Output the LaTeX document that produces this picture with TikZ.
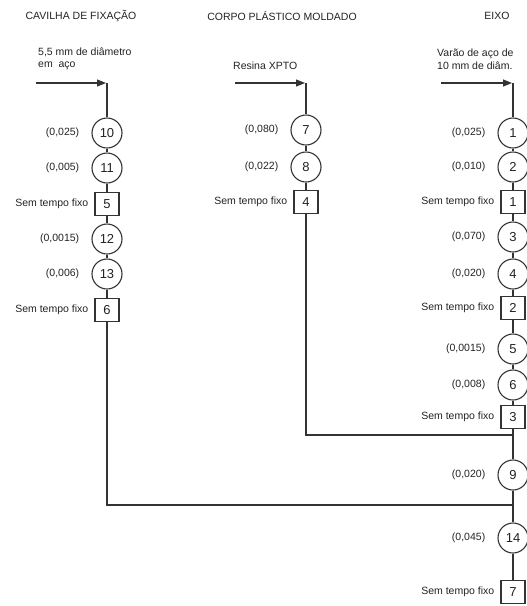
\documentclass[tikz,border=0pt]{standalone}
\usepackage{fontspec}
\setmainfont{Liberation Sans}
\usetikzlibrary{arrows.meta}
\definecolor{ln}{HTML}{333333}
\definecolor{tx}{HTML}{222222}
\tikzset{
  op/.style={circle,draw=ln,line width=1.1pt,minimum size=30pt,inner sep=0pt,font=\fontsize{13}{13}\selectfont,text=tx},
  sq/.style={rectangle,draw=ln,line width=1.1pt,minimum width=24pt,minimum height=23pt,inner sep=0pt,font=\fontsize{13}{13}\selectfont,text=tx},
  lbl/.style={font=\fontsize{10.5}{10.5}\selectfont,text=tx,inner sep=0pt},
  ttl/.style={font=\fontsize{10.5}{10.5}\selectfont,text=tx,inner sep=0pt},
  con/.style={draw=ln,line width=1.1pt},
  arr/.style={con,-{Triangle[length=9pt,width=7pt]}}
}
\begin{document}
\begin{tikzpicture}[x=1pt,y=-1pt]
\useasboundingbox (0,0) rectangle (527,606);
\clip (0,0) rectangle (527,606);
% titles
\node[ttl] (t1) at (81,16) {CAVILHA DE FIXAÇÃO};
\node[ttl] (t2) at (282,16) {CORPO PLÁSTICO MOLDADO};
\node[ttl] (t3) at (497,16) {EIXO};
% inputs
\node[lbl,anchor=west,align=left] (in1) at (38,59) {5,5 mm de diâmetro\\[2pt]em\ \ aço};
\node[lbl,anchor=west] (in2) at (233,66) {Resina XPTO};
\node[lbl,anchor=west,align=left] (in3) at (437,59) {Varão de aço de\\[2pt]10 mm de diâm.};
\coordinate (a1s) at (36,83); \coordinate (a1e) at (107,83);
\coordinate (a2s) at (235,83); \coordinate (a2e) at (306,83);
\coordinate (a3s) at (441,83); \coordinate (a3e) at (513,83);
% left column
\node[op] (c10) at (107,133) {10};
\node[op] (c11) at (107,168) {11};
\node[sq] (s5) at (107,204) {5};
\node[op] (c12) at (107,239) {12};
\node[op] (c13) at (107,274) {13};
\node[sq] (s6) at (107,310) {6};
% middle column
\node[op] (c7) at (306,130) {7};
\node[op] (c8) at (306,167) {8};
\node[sq] (s4) at (306,202) {4};
% right column
\node[op] (c1) at (513,133) {1};
\node[op] (c2) at (513,167) {2};
\node[sq] (s1) at (513,202) {1};
\node[op] (c3) at (513,237) {3};
\node[op] (c4) at (513,274) {4};
\node[sq] (s2) at (513,308) {2};
\node[op] (c5) at (513,349) {5};
\node[op] (c6) at (513,385) {6};
\node[sq] (s3) at (513,417) {3};
\node[op] (c9) at (513,475) {9};
\node[op] (c14) at (513,538) {14};
\node[sq] (s7) at (513,592) {7};
% labels
\foreach \n/\t in {c10/{(0,025)},c11/{(0,005)},c12/{(0,0015)},c13/{(0,006)},c7/{(0,080)},c8/{(0,022)},c1/{(0,025)},c2/{(0,010)},c3/{(0,070)},c4/{(0,020)},c5/{(0,0015)},c6/{(0,008)},c9/{(0,020)},c14/{(0,045)}}
  \node[lbl,anchor=east] (l\n) at ([xshift=-12pt]\n.west) {\t};
\foreach \n in {s5,s6,s4,s1,s2,s3,s7}
  \node[lbl,anchor=east] (l\n) at ([xshift=-6pt]\n.west) {Sem tempo fixo};
% junctions
\coordinate (j2) at (306,435); \coordinate (j2r) at (513,435);
\coordinate (j1) at (107,505); \coordinate (j1r) at (513,505);
% connectors
\draw[arr] (a1s) -- ([xshift=-1pt]a1e);
\draw[arr] (a2s) -- ([xshift=-1pt]a2e);
\draw[arr] (a3s) -- ([xshift=-1pt]a3e);
\draw[con] (a1e) -- (c10) -- (c11) -- (s5) -- (c12) -- (c13) -- (s6) -- (j1) -- (j1r);
\draw[con] (a2e) -- (c7) -- (c8) -- (s4) -- (j2) -- (j2r);
\draw[con] (a3e) -- (c1) -- (c2) -- (s1) -- (c3) -- (c4) -- (s2) -- (c5) -- (c6) -- (s3) -- (c9) -- (c14) -- (s7);
\end{tikzpicture}
\end{document}
